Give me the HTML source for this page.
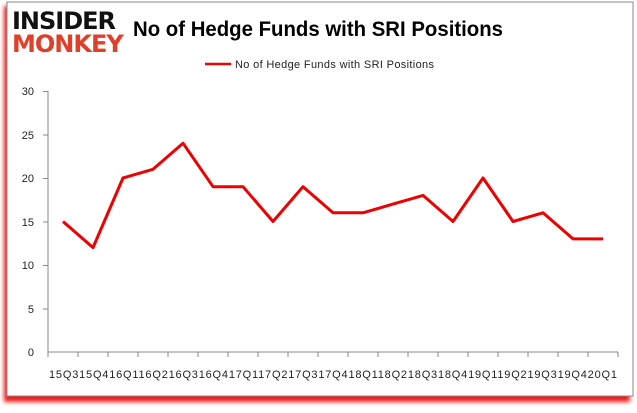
<!DOCTYPE html>
<html><head><style>
body{margin:0;background:#fff;width:637px;height:408px;overflow:hidden;font-family:"Liberation Sans",sans-serif}
</style></head><body>
<svg width="637" height="408" xmlns="http://www.w3.org/2000/svg">
<defs><filter id="s" x="-5%" y="-5%" width="110%" height="115%"><feGaussianBlur stdDeviation="2"/></filter></defs>
<rect x="4" y="6" width="626" height="396" fill="#e00" filter="url(#s)" opacity="0.9"/>
<rect x="7" y="2" width="626" height="394" fill="#fff" stroke="#888" stroke-width="1"/>
<text x="12" y="29" font-size="24" font-weight="bold" fill="#111" font-family="DejaVu Sans" letter-spacing="-1">INSIDER</text>
<text x="12" y="52" font-size="24" font-weight="bold" fill="#e0402a" font-family="DejaVu Sans" letter-spacing="-1">MONKEY</text>
<text x="133" y="36" font-size="21" font-weight="bold" fill="#000" textLength="370" lengthAdjust="spacingAndGlyphs">No of Hedge Funds with SRI Positions</text>
<line x1="205" y1="64" x2="231" y2="64" stroke="#e00" stroke-width="2.5"/>
<text x="235" y="68" font-size="11" fill="#222" textLength="199">No of Hedge Funds with SRI Positions</text>
<g font-size="11" fill="#222" text-anchor="end">
<text x="34" y="95">30</text><text x="34" y="182">20</text><text x="34" y="139">25</text>
<text x="34" y="226">15</text><text x="34" y="269">10</text><text x="34" y="313">5</text><text x="34" y="356">0</text>
</g>
<g stroke="#888" stroke-width="1">
<line x1="48" y1="91" x2="48" y2="352"/>
<line x1="48" y1="352" x2="618" y2="352"/>
<line x1="43" y1="91.5" x2="48" y2="91.5"/><line x1="43" y1="135" x2="48" y2="135"/><line x1="43" y1="178.5" x2="48" y2="178.5"/>
<line x1="43" y1="222" x2="48" y2="222"/><line x1="43" y1="265.5" x2="48" y2="265.5"/><line x1="43" y1="309" x2="48" y2="309"/>
</g>
<g stroke="#888">
<path d="M48 352v5M78 352v5M108 352v5M138 352v5M168 352v5M198 352v5M228 352v5M258 352v5M288 352v5M318 352v5M348 352v5M378 352v5M408 352v5M438 352v5M468 352v5M498 352v5M528 352v5M558 352v5M588 352v5M618 352v5"/>
</g>
<text x="333" y="378" font-size="11" fill="#222" text-anchor="middle" textLength="568">15Q315Q416Q116Q216Q316Q417Q117Q217Q317Q418Q118Q218Q318Q419Q119Q219Q319Q420Q1</text>
<polyline fill="none" stroke="#e00" stroke-width="3" stroke-linejoin="round"
points="63,221.5 93,247.6 123,178 153,169.3 183,143.2 213,186.7 243,186.7 273,221.5 303,186.7 333,212.8 363,212.8 393,204.1 423,195.4 453,221.5 483,178 513,221.5 543,212.8 573,238.9 603,238.9"/>
</svg>
</body></html>
